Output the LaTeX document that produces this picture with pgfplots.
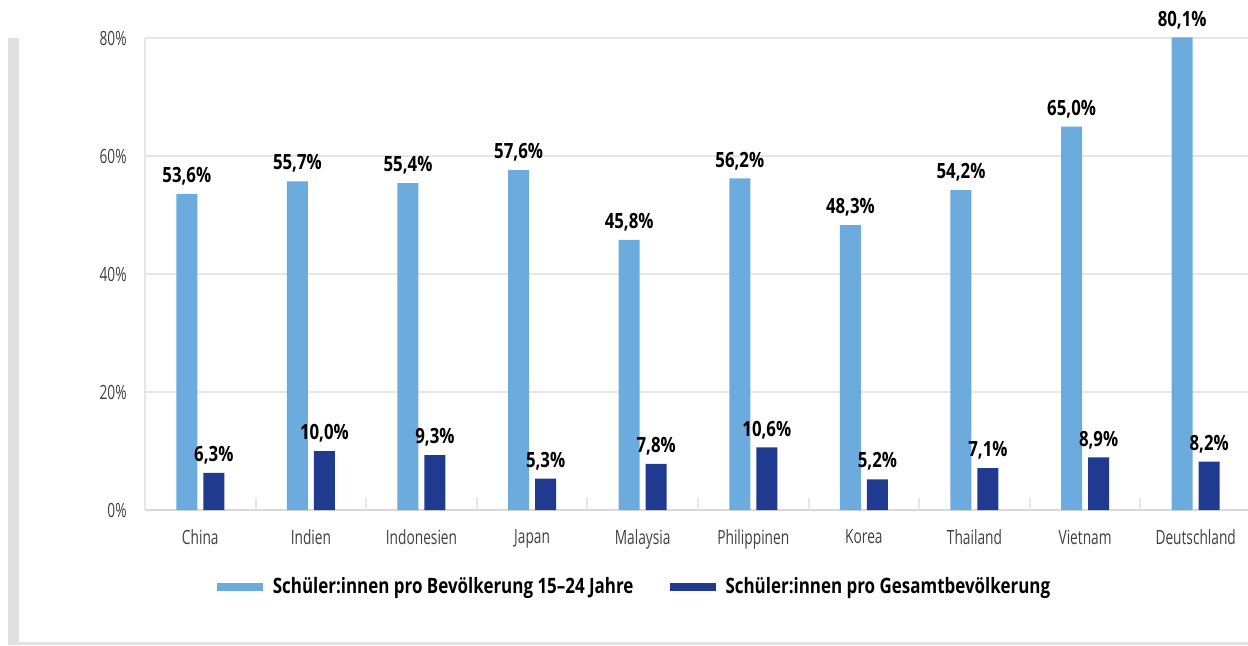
\documentclass[border=0pt]{standalone}
\usepackage{pgfplots}
\pgfplotsset{compat=1.18}
\usepackage{pgfplotstable}
\usepackage{fontspec}
\setmainfont{Open Sans}[FakeStretch=0.7]
\newfontfamily\labfont{Open Sans}[FakeStretch=0.8]

\definecolor{lightbar}{HTML}{6CABDD}
\definecolor{darkbar}{HTML}{1F3A8F}
\definecolor{gridgrey}{HTML}{E6E6E6}
\definecolor{axisgrey}{HTML}{D9D9D9}
\definecolor{framegrey}{HTML}{E0E0E0}
\definecolor{ticktext}{HTML}{404040}

% Anteil der Schueler:innen, in Prozent
\pgfplotstableread{
x  young  total
0  53.6   6.3
1  55.7   10.0
2  55.4   9.3
3  57.6   5.3
4  45.8   7.8
5  56.2   10.6
6  48.3   5.2
7  54.2   7.1
8  65.0   8.9
9  80.1   8.2
}\schueler

\begin{document}
\begin{tikzpicture}
\useasboundingbox (0,0) rectangle (624pt,322.5pt);
% grauer Rahmen links und unten
\fill[framegrey] (4pt,1.5pt) rectangle (9.5pt,303.5pt);
\fill[framegrey] (4pt,0pt) rectangle (624pt,1.5pt);
\begin{axis}[
  at={(72.5pt,67.5pt)}, anchor=south west,
  scale only axis, width=553pt, height=236pt,
  ybar=3pt, bar width=10.5pt,
  xmin=-0.5, xmax=9.5, ymin=0, ymax=80,
  clip=false,
  axis x line*=bottom, axis y line*=left,
  x axis line style={-, axisgrey, line width=1pt},
  y axis line style={-, gridgrey, line width=1pt},
  ymajorgrids, grid style={gridgrey, line width=1pt},
  xtick={0,...,9},
  xticklabels={China,Indien,Indonesien,Japan,Malaysia,Philippinen,Korea,Thailand,Vietnam,Deutschland},
  xtick style={draw=none}, ytick style={draw=none},
  extra x ticks={0.5,1.5,...,8.5}, extra x tick labels={},
  extra x tick style={grid=none, tick align=inside, major tick length=6pt,
    xtick style={draw=gridgrey, line width=1pt}},
  ytick={0,20,40,60,80},
  yticklabels={0\%,20\%,40\%,60\%,80\%},
  ticklabel style={font=\fontsize{9.8pt}{11pt}\selectfont, text=ticktext},
  xticklabel style={inner sep=0pt, anchor=north, yshift=-5.5pt},
  yticklabel style={inner sep=0pt, anchor=east, xshift=-9pt},
  nodes near coords={\pgfmathprintnumber[fixed,fixed zerofill,precision=1,use comma,assume math mode=true]{\pgfplotspointmeta}\%},
  every node near coord/.append style={inner sep=0pt, text depth=0pt, yshift=5.5pt,
    font=\labfont\bfseries\fontsize{10.5pt}{12pt}\selectfont, text=black},
  legend style={at={(0.4435,-0.163)}, anchor=center, draw=none,
    font=\labfont\bfseries\fontsize{10.6pt}{12pt}\selectfont,
    /tikz/every odd column/.append style={column sep=3pt},
    /tikz/every even column/.append style={column sep=16pt}},
  legend columns=2,
]
\addplot[fill=lightbar, draw=none,
  legend image code/.code={\fill[lightbar] (0pt,-2pt) rectangle (23pt,2pt);}]
  table[x=x, y=young] {\schueler};
\addplot[fill=darkbar, draw=none,
  legend image code/.code={\fill[darkbar] (0pt,-2pt) rectangle (23pt,2pt);}]
  table[x=x, y=total] {\schueler};
\legend{Schüler:innen pro Bevölkerung 15–24 Jahre, Schüler:innen pro Gesamtbevölkerung}
\end{axis}
\end{tikzpicture}
\end{document}
